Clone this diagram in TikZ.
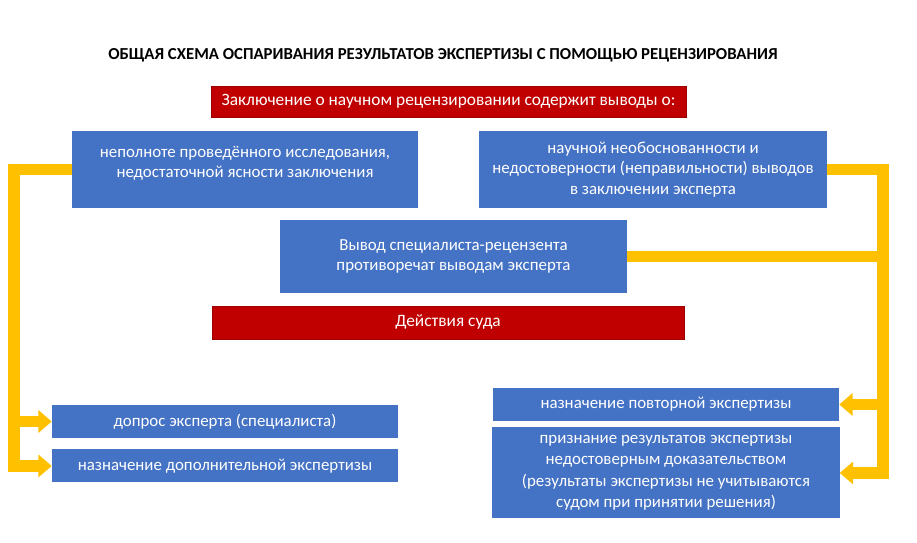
\documentclass[tikz,border=0pt]{standalone}
\usepackage{fontspec}
\setmainfont{Carlito}
\usepackage{tikz}
\usetikzlibrary{positioning, arrows.meta}

\definecolor{boxblue}{HTML}{4472C4}
\definecolor{darkred}{HTML}{C00000}
\definecolor{gold}{HTML}{FFC000}

\tikzset{
	box/.style = {rectangle, fill=boxblue, text=white, align=center, inner sep=0pt,
		font=\fontsize{14.4}{17.5}\selectfont, minimum width=10.38cm, minimum height=0.99cm},
	redbox/.style = {box, fill=darkred, draw=darkred!80!black, font=\fontsize{14.8}{17.5}\selectfont},
	line/.style = {draw=gold, line width=10.2pt, line join=miter},
	arrow/.style = {line, -{Triangle[length=0.4cm, width=0.66cm]}}
}

\begin{document}
\begin{tikzpicture}[x=0.03cm, y=-0.03cm, node distance = 0.33cm]
			\useasboundingbox (0,0) rectangle (917,543);
			\node [font=\bfseries\fontsize{14.3}{16}\selectfont] (title) at (443,55) {ОБЩАЯ СХЕМА ОСПАРИВАНИЯ РЕЗУЛЬТАТОВ ЭКСПЕРТИЗЫ С ПОМОЩЬЮ РЕЦЕНЗИРОВАНИЯ};
			\node [redbox, minimum width=14.25cm, minimum height=0.93cm] (review) at (448.5,101.5) {Заключение о научном рецензировании содержит выводы о:};
			\node [box, minimum height=2.31cm] (incomplete) at (245,169.5) {неполноте проведённого исследования,\\недостаточной ясности заключения\\[-0.17cm]};
			\node [box, minimum width=10.44cm, minimum height=2.31cm] (unsound) at (653,169.5) {научной необоснованности и\\недостоверности (неправильности) выводов\\в заключении эксперта};
			\node [box, minimum width=10.41cm, minimum height=2.19cm] (contrary) at (453.5,256.5) {Вывод специалиста-рецензента\\противоречат выводам эксперта};
			\node [redbox, minimum width=14.16cm] (court) at (448,322.5) {Действия суда};
			\node [box] (interrogate) at (225,421.5) {допрос эксперта (специалиста)};
			\node [box, below = of interrogate] (additional) {назначение дополнительной экспертизы};
			\node [box] (repeated) at (666,404.5) {назначение повторной экспертизы};
			\node [box, minimum width=10.41cm, minimum height=2.73cm, below = 0.18cm of repeated,
				font=\fontsize{14.4}{18.3}\selectfont] (unreliable) {признание результатов экспертизы\\недостоверным доказательством\\(результаты экспертизы не учитываются\\судом при принятии решения)};
			\coordinate (leftbus) at (14,0);
			\coordinate (rightbus) at (883,0);
			\path [arrow] (incomplete.west) -| (leftbus |- additional.west) -- (additional.west);
			\path [arrow] (leftbus |- interrogate.west) -- (interrogate.west);
			\path [arrow] (unsound.east) -| (rightbus |- unreliable.east) -- (unreliable.east);
			\path [arrow] (rightbus |- repeated.east) -- (repeated.east);
			\path [line] (contrary.east) -- (contrary.east -| rightbus);
		\end{tikzpicture}
\end{document}
